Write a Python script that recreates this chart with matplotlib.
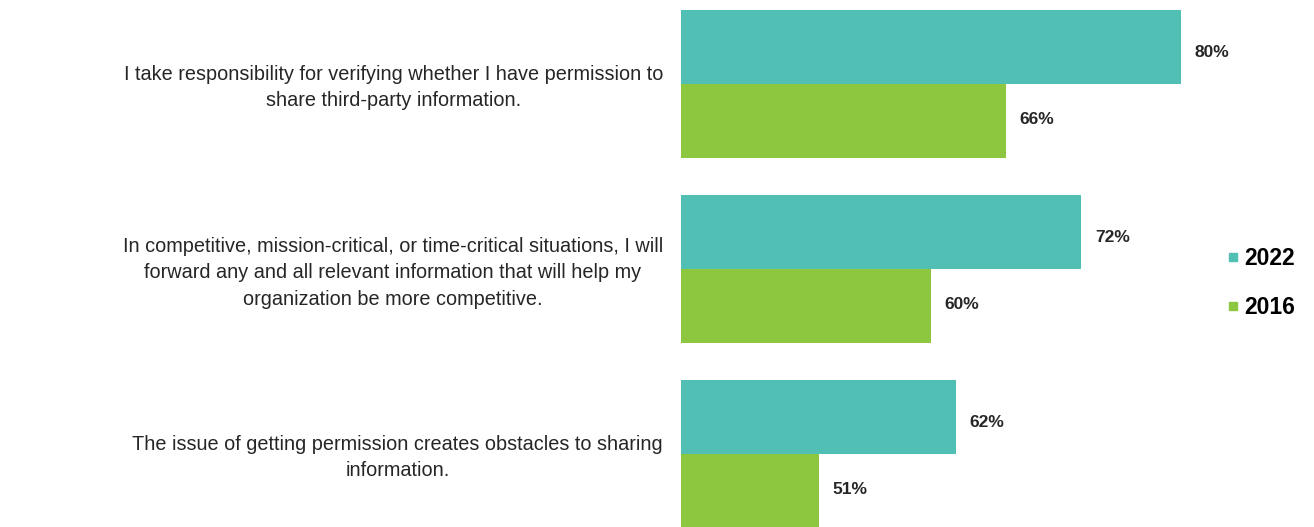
import matplotlib
matplotlib.use("Agg")
import matplotlib.pyplot as plt
from matplotlib.lines import Line2D
from matplotlib.transforms import blended_transform_factory

categories = [
    "I take responsibility for verifying whether I have permission to\nshare third-party information.",
    "In competitive, mission-critical, or time-critical situations, I will\nforward any and all relevant information that will help my\norganization be more competitive.",
    "The issue of getting permission creates obstacles to sharing\ninformation.",
]
series_names = ["2022", "2016"]
values_2022 = [80, 72, 62]
values_2016 = [66, 60, 51]
colors = ["#52BFB4", "#8DC63F"]

W, H = 1314, 527
fig = plt.figure(figsize=(W / 100, H / 100), dpi=100)
ax = fig.add_axes([681 / W, -1 / H, (1306 - 681) / W, 518 / H])

bh = 0.4
ys = list(range(len(categories)))
ax.barh([y - bh / 2 for y in ys], values_2022, height=bh, color=colors[0], label=series_names[0])
ax.barh([y + bh / 2 for y in ys], values_2016, height=bh, color=colors[1], label=series_names[1])

ax.set_xlim(40, 90)
ax.set_ylim(2.4, -0.4)
for s in ax.spines.values():
    s.set_visible(False)
ax.set_xticks([])
ax.set_yticks([])

for y, v in zip(ys, values_2022):
    ax.text(v + 1.1, y - bh / 2 + 0.03, f"{v}%", va="center", ha="left",
            fontsize=12.5, fontweight="bold", color="#262626", family="Liberation Sans")
for y, v in zip(ys, values_2016):
    ax.text(v + 1.1, y + bh / 2 - 0.01, f"{v}%", va="center", ha="left",
            fontsize=12.5, fontweight="bold", color="#262626", family="Liberation Sans")

tr = blended_transform_factory(fig.transFigure, ax.transData)
for y, c in zip(ys, categories):
    fig.text(663 / W, y + 0.02, c, transform=tr,
             ha="right", va="center", multialignment="center",
             fontsize=14.3, family="Liberation Sans", color="#262626", linespacing=1.5)

handles = [Line2D([], [], marker="s", linestyle="none", markersize=6, color=colors[i]) for i in range(2)]
fig.legend(handles, series_names, loc="center left", bbox_to_anchor=(1205 / W, 1 - 283 / H),
           frameon=False, handlelength=0.6, handletextpad=0.2, labelspacing=1.1,
           prop={"family": "Liberation Sans", "weight": "bold", "size": 16.5})

fig.savefig("out.png", dpi=100, facecolor="white")
